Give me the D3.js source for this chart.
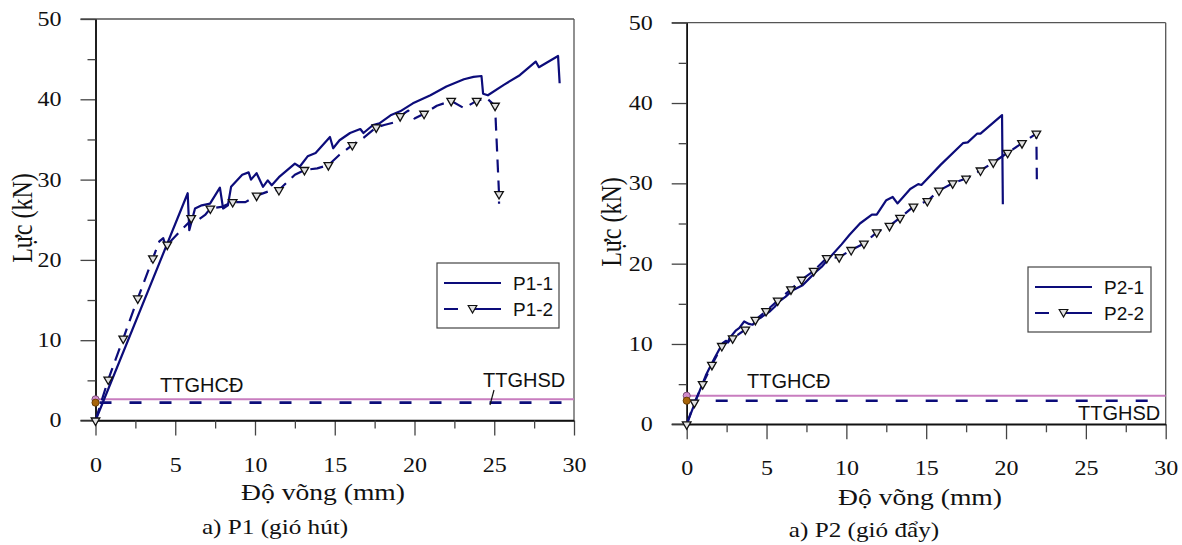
<!DOCTYPE html>
<html><head><meta charset="utf-8">
<script src="https://cdn.jsdelivr.net/npm/d3@7"></script>
<style>body{margin:0;background:#fff}svg{display:block}</style>
</head><body>
<svg id="c" width="1182" height="545"></svg>
<script>
// ---------- data ----------
const xTicks = [0, 5, 10, 15, 20, 25, 30];
const xMinor = [2.5, 7.5, 12.5, 17.5, 22.5, 27.5];
const yTicks = [0, 10, 20, 30, 40, 50];
const yMinor = [5, 15, 25, 35, 45];

const p1_1 = [[0,0],[5.78,28.3],[5.88,23.7],[6.24,26.4],[6.66,26.8],[7.18,27.0],[7.8,29.0],[8.0,26.4],[8.3,26.8],[8.5,29.1],[9.2,30.6],[9.6,30.9],[9.75,30.0],[10.1,30.8],[10.5,29.1],[10.8,29.9],[11.05,29.3],[11.5,30.3],[12.5,32.0],[12.8,31.6],[13.3,32.9],[13.8,33.3],[14.7,35.3],[14.9,33.9],[15.3,34.9],[15.96,35.8],[16.6,36.3],[16.8,35.8],[17.4,36.8],[17.8,37.0],[18.5,38.0],[19.1,38.5],[19.9,39.5],[21.0,40.5],[22.0,41.6],[23.1,42.5],[23.7,42.8],[24.2,42.9],[24.3,40.7],[24.6,40.5],[25.6,41.8],[26.6,43.0],[27.6,44.7],[27.8,44.0],[29.0,45.4],[29.1,42.0]];
const p1_2 = [[0,0],[0.8,5.1],[1.74,10.2],[2.65,15.2],[3.6,20.2],[4.0,22.3],[4.25,22.7],[4.42,21.6],[4.5,21.9],[5.47,23.9],[5.88,24.7],[6.0,25.2],[6.45,25.0],[6.87,25.6],[7.2,26.4],[7.9,26.6],[8.6,27.2],[9.4,27.2],[10.1,28.0],[10.8,28.5],[11.5,28.7],[12.5,30.6],[13.1,31.2],[13.9,31.4],[14.6,31.8],[15.3,33.1],[16.1,34.3],[16.8,35.2],[17.6,36.5],[18.1,36.8],[18.7,37.1],[19.1,37.9],[19.6,38.6],[20.0,37.6],[20.6,38.2],[21.4,39.2],[22.3,39.8],[23.1,38.9],[23.9,39.8],[24.5,40.2],[25.05,39.2],[25.3,28.2],[25.3,27.0]];
const p1_2Markers = [[0,0],[0.8,5.1],[1.74,10.2],[2.65,15.2],[3.6,20.2],[4.5,21.9],[6.0,25.2],[7.2,26.4],[8.6,27.2],[10.1,28.0],[11.5,28.7],[13.1,31.2],[14.6,31.8],[16.1,34.3],[17.6,36.5],[19.1,37.9],[20.6,38.2],[22.3,39.8],[23.9,39.8],[25.05,39.2],[25.3,28.2]];

const p2_1 = [[0,0],[0.58,3.0],[1.2,6.1],[1.73,8.2],[2.25,10.1],[2.45,10.4],[2.6,10.2],[2.67,10.7],[3.09,11.7],[3.3,12.0],[3.6,12.8],[3.9,12.5],[4.13,12.4],[4.4,13.0],[4.65,13.3],[5.17,14.0],[5.5,14.6],[5.8,15.3],[6.2,15.9],[6.64,16.7],[7.26,17.3],[7.7,18.2],[8.1,19.0],[8.5,19.7],[8.93,20.7],[9.7,22.4],[10.2,23.6],[10.85,25.0],[11.6,26.1],[11.9,26.1],[12.5,27.9],[12.9,28.3],[13.2,27.5],[14.0,29.3],[14.5,29.9],[14.7,29.8],[15.9,32.3],[17.3,35.0],[17.6,35.1],[18.2,36.2],[18.4,36.2],[19.75,38.5],[19.8,27.4]];
const p2_2Markers = [[0,0],[0.48,2.7],[1.0,5.0],[1.58,7.4],[2.2,9.75],[2.88,10.7],[3.67,11.8],[4.3,13.0],[4.97,14.1],[5.7,15.4],[6.53,16.8],[7.2,18.0],[7.95,19.1],[8.77,20.7],[9.55,20.8],[10.3,21.7],[11.1,22.5],[11.9,23.9],[12.7,24.7],[13.36,25.7],[14.2,27.1],[15.07,27.8],[15.8,29.1],[16.66,30.0],[17.5,30.6],[18.4,31.6],[19.2,32.6],[20.1,33.8],[21.0,35.0],[21.9,36.2]];
const p2_2 = p2_2Markers.concat([[21.93,30.5]]);

const limits1 = [2.64, 2.22];   // TTGHCĐ, TTGHSD (P1)
const limits2 = [3.56, 2.94];   // TTGHCĐ, TTGHSD (P2)
const limitLabels = ["TTGHCĐ", "TTGHSD"];
const seriesNames1 = ["P1-1", "P1-2"];
const seriesNames2 = ["P2-1", "P2-2"];
const xTitle = "Độ võng (mm)";
const yTitle = "Lực (kN)";
const captions = ["a) P1 (gió hút)", "a) P2 (gió đẩy)"];

// ---------- drawing ----------
const svg = d3.select("#c");
const NAVY = "#0c0c7a";
const PINK = "#c87dbf";
const SERIF = "'Liberation Serif','Times New Roman',serif";
const SANS = "'Liberation Sans',Arial,sans-serif";
const SX = 1.2;

function stretchText(g, x, y, txt, size, anchor) {
  return g.append("text")
    .attr("transform", `translate(${x},${y}) scale(${SX},1)`)
    .attr("font-family", SERIF).attr("font-size", size)
    .attr("text-anchor", anchor || "middle").attr("fill", "#111").text(txt);
}

function panel(cfg) {
  const x = d3.scaleLinear().domain([0, 30]).range([cfg.x0, cfg.x1]);
  const y = d3.scaleLinear().domain([0, 50]).range([cfg.y0, cfg.y1]);
  const g = svg.append("g");

  // frame (top and right)
  g.append("line").attr("x1", cfg.x0 - 15).attr("x2", cfg.x1).attr("y1", y(50)).attr("y2", y(50))
    .attr("stroke", "#555").attr("stroke-width", 1.3);
  g.append("line").attr("x1", cfg.x1).attr("x2", cfg.x1).attr("y1", y(50)).attr("y2", y(0))
    .attr("stroke", "#555").attr("stroke-width", 1.3);

  // axes
  const ax = d3.axisBottom(x).tickValues(xTicks).tickSize(15).tickSizeOuter(0).tickPadding(22);
  const axm = d3.axisBottom(x).tickValues(xMinor).tickSize(8).tickSizeOuter(0).tickFormat("");
  const ay = d3.axisLeft(y).tickValues(yTicks).tickSize(15).tickSizeOuter(0);
  const aym = d3.axisLeft(y).tickValues(yMinor).tickSize(8).tickSizeOuter(0).tickFormat("");

  const gx = g.append("g").attr("transform", `translate(0,${y(0)})`).call(ax);
  g.append("g").attr("transform", `translate(0,${y(0)})`).call(axm);
  const gy = g.append("g").attr("transform", `translate(${x(0)},0)`).call(ay);
  g.append("g").attr("transform", `translate(${x(0)},0)`).call(aym);
  g.selectAll(".domain").attr("stroke", "#111").attr("stroke-width", 1.5);
  g.selectAll(".tick line").attr("stroke", "#444").attr("stroke-width", 1.3);
  gx.selectAll(".domain").attr("d", `M${cfg.x0 - 15},0H${cfg.x1}`);
  gx.selectAll("text").attr("font-family", SERIF).attr("font-size", 20).attr("fill", "#111")
    .attr("transform", `scale(${SX},1)`);
  gy.selectAll("text").attr("font-family", SERIF).attr("font-size", 20).attr("fill", "#111")
    .attr("x", -34 / SX).attr("transform", `scale(${SX},1)`);

  // limit lines
  g.append("line").attr("x1", x(0)).attr("x2", x(30)).attr("y1", y(cfg.limits[0])).attr("y2", y(cfg.limits[0]))
    .attr("stroke", PINK).attr("stroke-width", 2);
  g.append("line").attr("x1", x(0)).attr("x2", x(30)).attr("y1", y(cfg.limits[1])).attr("y2", y(cfg.limits[1]))
    .attr("stroke", NAVY).attr("stroke-width", 2.6).attr("stroke-dasharray", "12,18").attr("stroke-dashoffset", cfg.dashOff);

  const line = d3.line().x(d => x(d[0])).y(d => y(d[1]));
  g.append("path").attr("d", line(cfg.s1)).attr("fill", "none").attr("stroke", NAVY).attr("stroke-width", 2.2)
    .attr("stroke-linejoin", "round");
  g.append("path").attr("d", line(cfg.s2)).attr("fill", "none").attr("stroke", NAVY).attr("stroke-width", 2.2)
    .attr("stroke-dasharray", "13,8").attr("stroke-linejoin", "round");

  const tri = d3.symbol().type(d3.symbolTriangle).size(32);
  g.selectAll(".mk").data(cfg.markers).enter().append("path")
    .attr("d", tri).attr("transform", d => `translate(${x(d[0])},${y(d[1])}) rotate(180)`)
    .attr("fill", "#e2e2e2").attr("stroke", "#111").attr("stroke-width", 1.3);

  // limit circles on axis
  g.append("circle").attr("cx", x(0)).attr("cy", y(cfg.limits[0])).attr("r", 3.6)
    .attr("fill", "#d08ccc").attr("stroke", "#6a3a66").attr("stroke-width", 0.8);
  g.append("circle").attr("cx", x(0)).attr("cy", y(cfg.limits[1])).attr("r", 3.6)
    .attr("fill", "#a8650a").attr("stroke", "#5a3300").attr("stroke-width", 0.8);

  // limit labels
  g.append("text").attr("x", cfg.hcdPos[0]).attr("y", cfg.hcdPos[1]).attr("font-family", SANS)
    .attr("font-size", 20).attr("fill", "#111").text(limitLabels[0]);
  g.append("text").attr("x", cfg.hsdPos[0]).attr("y", cfg.hsdPos[1]).attr("font-family", SANS)
    .attr("font-size", 20).attr("fill", "#111").text(limitLabels[1]);
  if (cfg.leader) {
    g.append("line").attr("x1", cfg.leader[0]).attr("y1", cfg.leader[1]).attr("x2", cfg.leader[2]).attr("y2", cfg.leader[3])
      .attr("stroke", "#111").attr("stroke-width", 1.2);
  }

  // legend
  const L = cfg.legend;
  g.append("rect").attr("x", L.x).attr("y", L.y).attr("width", L.w).attr("height", L.h)
    .attr("fill", "#fff").attr("stroke", "#444").attr("stroke-width", 1.2);
  const lx0 = L.x + 7, lx1 = L.x + 64;
  g.append("line").attr("x1", lx0).attr("x2", lx1).attr("y1", L.y + 20).attr("y2", L.y + 20)
    .attr("stroke", NAVY).attr("stroke-width", 2.2);
  g.append("line").attr("x1", lx0).attr("x2", lx1).attr("y1", L.y + 46).attr("y2", L.y + 46)
    .attr("stroke", NAVY).attr("stroke-width", 2.2).attr("stroke-dasharray", "14,12,40");
  g.append("path").attr("d", tri).attr("transform", `translate(${(lx0 + lx1) / 2},${L.y + 45}) rotate(180)`)
    .attr("fill", "#e2e2e2").attr("stroke", "#111").attr("stroke-width", 1.2);
  g.append("text").attr("x", L.x + 76).attr("y", L.y + 27).attr("font-family", SANS).attr("font-size", 19)
    .attr("fill", "#111").text(cfg.names[0]);
  g.append("text").attr("x", L.x + 76).attr("y", L.y + 53).attr("font-family", SANS).attr("font-size", 19)
    .attr("fill", "#111").text(cfg.names[1]);

  // titles
  stretchText(g, cfg.xTitleX, cfg.xTitleY, xTitle, 23);
  stretchText(g, cfg.capX, cfg.capY, cfg.caption, 21);
  g.append("text")
    .attr("transform", `translate(${cfg.yTitleX},${cfg.yTitleY}) scale(${SX},1) rotate(-90)`)
    .attr("font-family", SERIF).attr("font-size", 24).attr("text-anchor", "middle")
    .attr("dominant-baseline", "central").attr("fill", "#111").text(yTitle);
}

panel({
  x0: 95.5, x1: 574, y0: 420.5, y1: 19,
  s1: p1_1, s2: p1_2, markers: p1_2Markers, limits: limits1, names: seriesNames1,
  dashOff: -4,
  hcdPos: [160, 392], hsdPos: [483, 387], leader: [494, 390, 490, 405],
  legend: { x: 437, y: 263, w: 122, h: 65 },
  xTitleX: 323, xTitleY: 500, capX: 275, capY: 534, caption: captions[0],
  yTitleX: 22, yTitleY: 218
});
panel({
  x0: 686.7, x1: 1165.7, y0: 424.3, y1: 22.7,
  s1: p2_1, s2: p2_2, markers: p2_2Markers, limits: limits2, names: seriesNames2,
  dashOff: -29,
  hcdPos: [747, 388], hsdPos: [1078, 420], leader: null,
  legend: { x: 1028, y: 267, w: 123, h: 65 },
  xTitleX: 920, xTitleY: 505, capX: 864, capY: 537, caption: captions[1],
  yTitleX: 611, yTitleY: 222
});
</script>
</body></html>
